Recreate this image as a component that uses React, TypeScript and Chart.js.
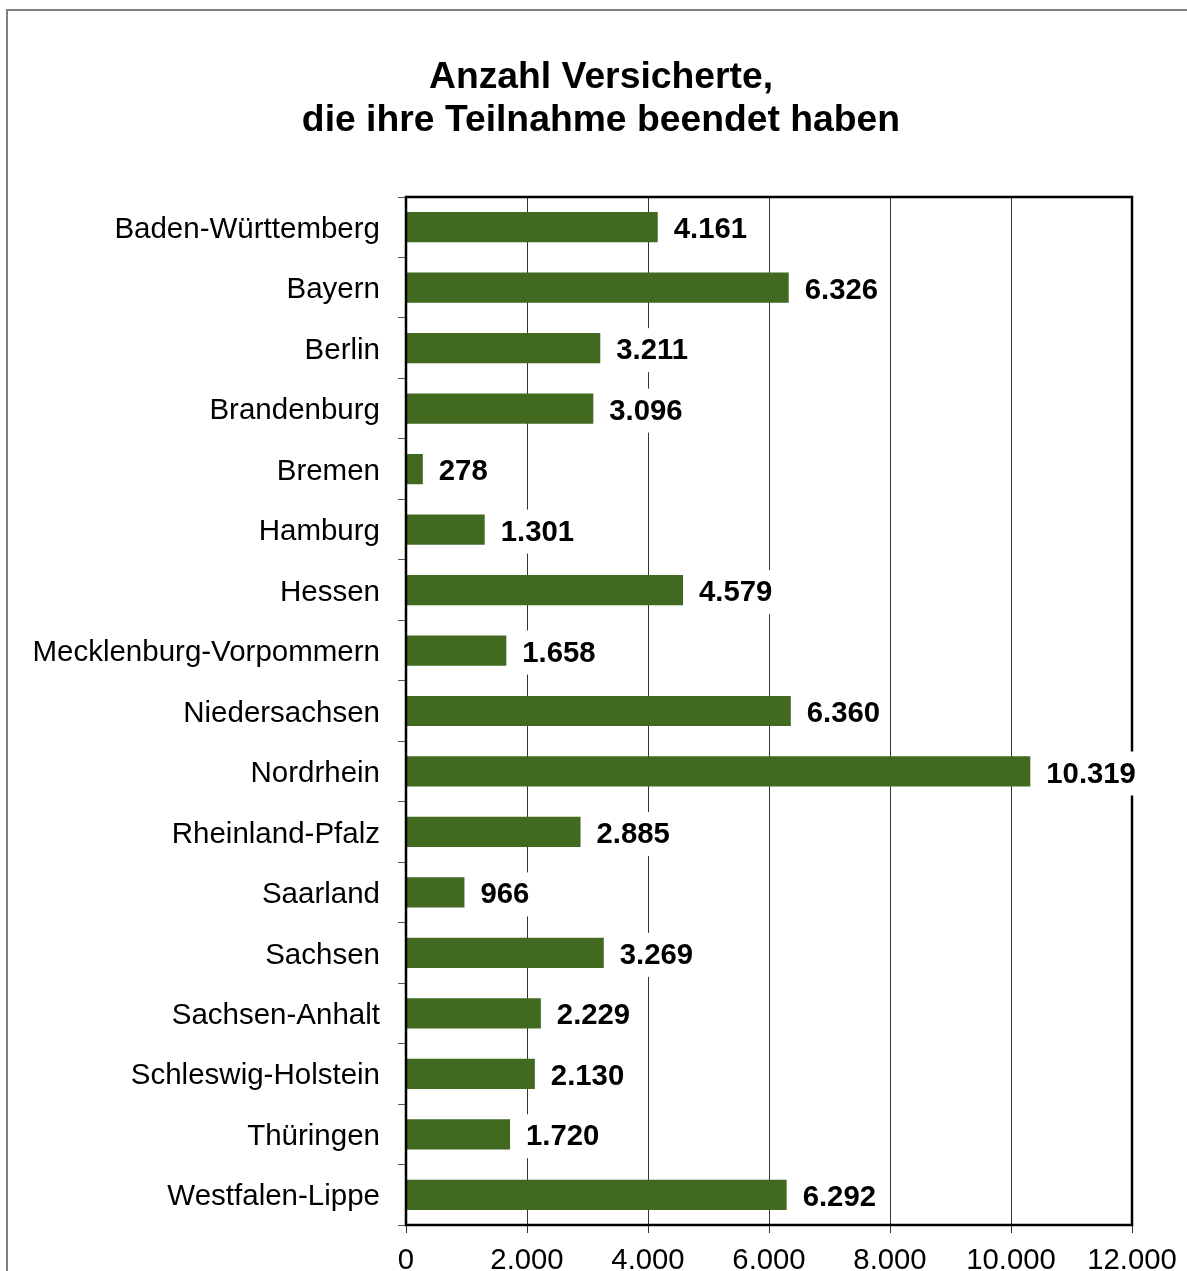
import React, { useEffect, useRef } from "react";
import { Chart, registerables } from "chart.js";

Chart.register(...registerables);

const titleLines = ["Anzahl Versicherte,", "die ihre Teilnahme beendet haben"];
const categories = [
  "Baden-Württemberg",
  "Bayern",
  "Berlin",
  "Brandenburg",
  "Bremen",
  "Hamburg",
  "Hessen",
  "Mecklenburg-Vorpommern",
  "Niedersachsen",
  "Nordrhein",
  "Rheinland-Pfalz",
  "Saarland",
  "Sachsen",
  "Sachsen-Anhalt",
  "Schleswig-Holstein",
  "Thüringen",
  "Westfalen-Lippe",
];
const values = [4161, 6326, 3211, 3096, 278, 1301, 4579, 1658, 6360, 10319, 2885, 966, 3269, 2229, 2130, 1720, 6292];
const xMin = 0;
const xMax = 12000;
const xStep = 2000;

const FONT = "'Liberation Sans', Arial, Helvetica, sans-serif";
const fmt = (n: number) => String(Math.round(n)).replace(/\B(?=(\d{3})+(?!\d))/g, ".");

const decoPlugin = {
  id: "deco",
  beforeDraw(chart: any) {
    const ctx = chart.ctx;
    ctx.save();
    ctx.fillStyle = "#ffffff";
    ctx.fillRect(0, 0, chart.width, chart.height);
    ctx.strokeStyle = "#808080";
    ctx.lineWidth = 2;
    ctx.strokeRect(7, 10, chart.width + 50, chart.height + 50);
    ctx.fillStyle = "#000";
    ctx.font = `bold 37.3px ${FONT}`;
    ctx.textAlign = "center";
    ctx.textBaseline = "alphabetic";
    ctx.fillText(titleLines[0], 601, 88);
    ctx.fillText(titleLines[1], 601, 131);
    ctx.restore();
  },
  afterDatasetsDraw(chart: any) {
    const ctx = chart.ctx;
    const a = chart.chartArea;
    ctx.save();
    ctx.strokeStyle = "#000";
    ctx.lineWidth = 2.5;
    ctx.strokeRect(a.left, a.top, a.right - a.left, a.bottom - a.top);
    const meta = chart.getDatasetMeta(0);
    ctx.font = `bold 29.3px ${FONT}`;
    ctx.textAlign = "left";
    ctx.textBaseline = "middle";
    meta.data.forEach((el: any, i: number) => {
      const t = fmt(values[i]);
      const w = ctx.measureText(t).width;
      const x = el.x + 16;
      ctx.fillStyle = "#fff";
      ctx.fillRect(x - 4, el.y - 20, w + 8, 44);
      ctx.fillStyle = "#000";
      ctx.fillText(t, x, el.y + 3);
    });
    ctx.restore();
  },
};

export default function App() {
  const ref = useRef<HTMLCanvasElement>(null);
  useEffect(() => {
    if (!ref.current) return;
    const chart = new Chart(ref.current, {
      type: "bar",
      data: {
        labels: categories,
        datasets: [
          {
            data: values,
            backgroundColor: "#41691f",
            borderWidth: 0,
            barPercentage: 0.5,
            categoryPercentage: 1,
          },
        ],
      },
      options: {
        indexAxis: "y",
        animation: false,
        responsive: false,
        devicePixelRatio: 1,
        layout: { padding: { top: 197, right: 55, bottom: 0, left: 0 } },
        plugins: { legend: { display: false }, title: { display: false }, tooltip: { enabled: false } },
        scales: {
          x: {
            min: xMin,
            max: xMax,
            ticks: {
              stepSize: xStep,
              color: "#000",
              font: { family: FONT, size: 29.3 },
              padding: 10,
              maxRotation: 0,
              callback: (v: any) => fmt(Number(v)),
            },
            grid: { color: "#333", lineWidth: 1, tickLength: 8, drawOnChartArea: true },
            border: { display: false },
            afterFit: (s: any) => {
              s.height = 46;
            },
          },
          y: {
            ticks: { color: "#000", font: { family: FONT, size: 29.5 }, padding: 18, autoSkip: false, labelOffset: 2.5 },
            grid: { color: "#555", lineWidth: 1, tickLength: 8, drawOnChartArea: false, offset: true },
            border: { display: false },
            afterFit: (s: any) => {
              s.width = 406;
            },
          },
        },
      },
      plugins: [decoPlugin],
    });
    return () => chart.destroy();
  }, []);
  return (
    <div style={{ position: "absolute", left: 0, top: 0, width: 1187, height: 1271 }}>
      <canvas ref={ref} width={1187} height={1271} style={{ width: 1187, height: 1271, display: "block" }} />
    </div>
  );
}
